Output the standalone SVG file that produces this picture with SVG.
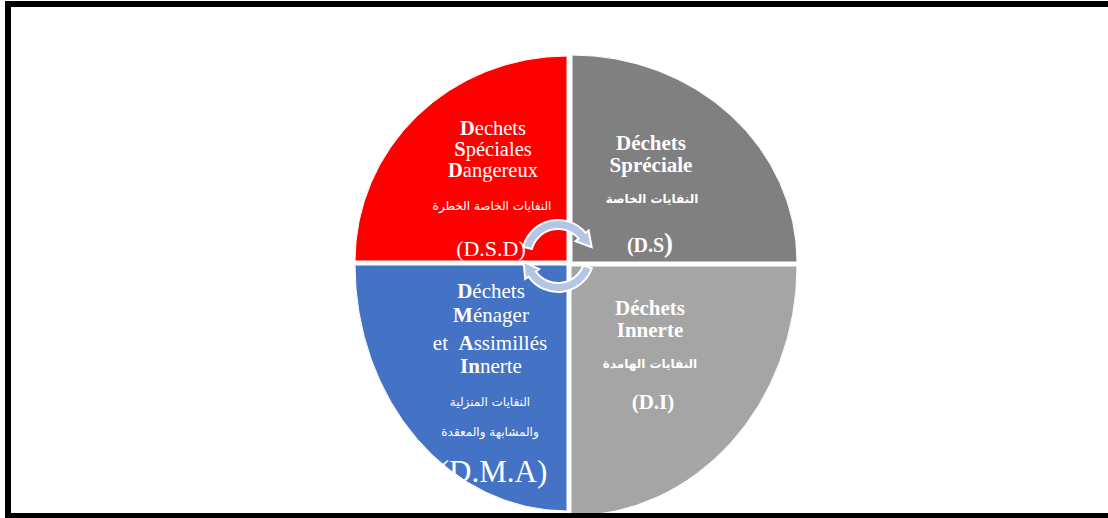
<svg xmlns="http://www.w3.org/2000/svg" width="1108" height="518" viewBox="0 0 1108 518">
<style>
.q{stroke:#ffffff;stroke-width:1}
.t{font-family:"Liberation Serif","DejaVu Serif",serif;fill:#ffffff;text-anchor:middle}
.b{font-weight:bold}
.ar{font-family:"DejaVu Sans","Noto Sans",sans-serif;fill:#ffffff;text-anchor:middle;font-size:12px}
.arw{fill:#B4C5E6;stroke:#ffffff;stroke-width:2;stroke-linejoin:miter}
</style>
<rect width="1108" height="518" fill="#ffffff"/>
<g id="dsd">
<path class="q" d="M567,261 L355,261 A212,205 0 0 1 567,56 Z" fill="#FF0000"/>
<text class="t" font-size="20.5" x="493" y="135"><tspan class="b">D</tspan>echets</text>
<text class="t" font-size="20.5" x="493" y="156"><tspan class="b">S</tspan>péciales</text>
<text class="t" font-size="20.5" x="493" y="177"><tspan class="b">D</tspan>angereux</text>
<text class="ar" x="492" y="210" direction="rtl">النفايات الخاصة الخطرة</text>
<text class="t" font-size="22" x="491" y="256">(D.S.D)</text>
</g>
<g id="ds">
<path class="q" d="M572,262 L572,55 A225,207 0 0 1 797,262 Z" fill="#808080"/>
<text class="t b" font-size="21" x="651" y="150">Déchets</text>
<text class="t b" font-size="21" x="651" y="172">Spréciale</text>
<text class="ar b" x="652" y="203" direction="rtl">النفايات الخاصة</text>
<text class="t b" x="650" y="252"><tspan font-size="20">(D.S</tspan><tspan font-size="27">)</tspan></text>
</g>
<g id="dma">
<path class="q" d="M567,265 L567,511 A212,246 0 0 1 355,265 Z" fill="#4472C4"/>
<text class="t" font-size="21" x="491" y="298"><tspan class="b">D</tspan>échets</text>
<text class="t" font-size="21" x="491" y="322"><tspan class="b">M</tspan>énager</text>
<text class="t" font-size="21" x="490" y="350">et&#160; <tspan class="b">A</tspan>ssimillés</text>
<text class="t" font-size="21" x="491" y="373"><tspan class="b">In</tspan>nerte</text>
<text class="ar" x="490" y="406" direction="rtl">النفايات المنزلية</text>
<text class="ar" x="490" y="436" direction="rtl">والمشابهة والمعقدة</text>
<text class="t" font-size="31" x="493" y="482">(D.M.A)</text>
</g>
<g id="di">
<path class="q" d="M571,266 L797,266 A226,250 0 0 1 571,516 Z" fill="#A5A5A5"/>
<text class="t b" font-size="21" x="650" y="315">Déchets</text>
<text class="t b" font-size="21" x="650" y="337">Innerte</text>
<text class="ar b" x="650" y="368" direction="rtl">النفايات الهامدة</text>
<text class="t b" font-size="21" x="653" y="409">(D.I)</text>
</g>
<g id="connectors">
<path class="arw" d="M523.2,246.7 A36,36 0 0 1 585.6,232.9 L588.6,230.3 L591.7,247.3 L575.6,241.2 L578.7,238.6 A27,27 0 0 0 531.9,249 Z"/>
<path class="arw" d="M591.8,268.3 A36,36 0 0 1 528.5,276.6 L525.2,278.9 L523.6,261.8 L539.2,269.2 L535.9,271.5 A27,27 0 0 0 583.4,265.2 Z"/>
</g>
<rect x="8" y="4" width="1110" height="512" fill="none" stroke="#000000" stroke-width="6"/>
</svg>
